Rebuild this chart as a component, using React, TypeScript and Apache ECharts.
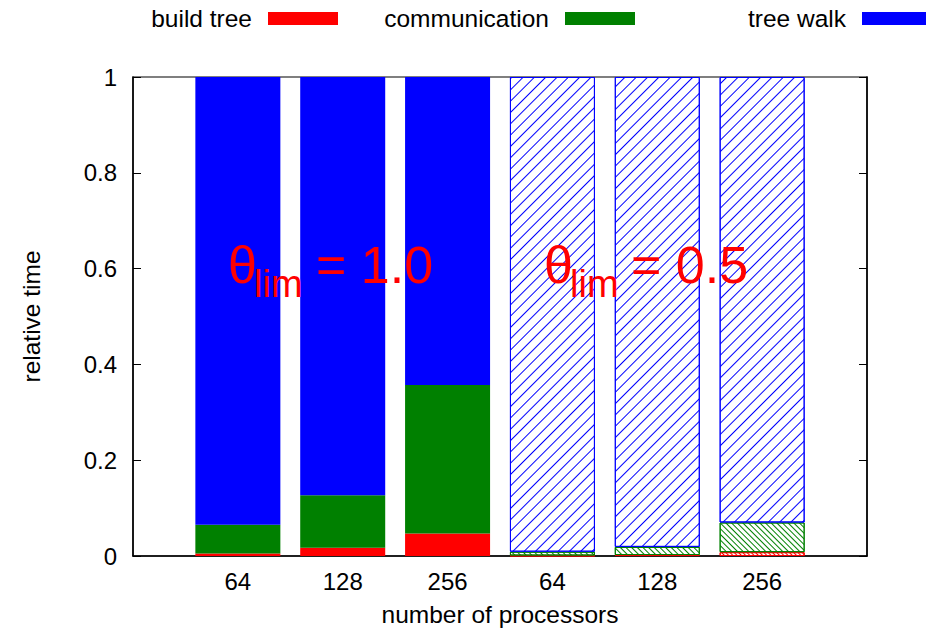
import React, { useEffect, useRef } from "react";
import * as echarts from "echarts";

const categories = ["", "64", "128", "256", "64", "128", "256", ""];
const seriesNames = ["build tree", "communication", "tree walk"];
// theta_lim = 1.0 (solid bars)
const buildSolid = [0.005, 0.017, 0.047];
const commSolid = [0.06, 0.11, 0.31];
const walkSolid = [0.935, 0.873, 0.643];
// theta_lim = 0.5 (hatched bars)
const buildHatched = [0.001, 0.002, 0.008];
const commHatched = [0.008, 0.017, 0.062];
const walkHatched = [0.991, 0.981, 0.93];
const yTicks = [0, 0.2, 0.4, 0.6, 0.8, 1];

const RED = "#ff0000";
const GREEN = "#008000";
const BLUE = "#0000ff";
const FONT = "'Liberation Sans', Arial, Helvetica, sans-serif";

const solidData = (v: number[]) => ["-", ...v, 0, 0, 0, "-"];
const hatchedData = (v: number[]) => ["-", "-", "-", "-", ...v, "-"];

const decal = (color: string, gap: number, rotation: number) => ({
  symbol: "rect",
  symbolSize: 1,
  color,
  backgroundColor: "#ffffff",
  dashArrayX: [1, 0],
  dashArrayY: [1, gap],
  rotation,
});

export default function App() {
  const ref = useRef<HTMLDivElement>(null);
  useEffect(() => {
    if (!ref.current) return;
    const chart = echarts.init(ref.current, undefined, { renderer: "svg" });
    const colors = [RED, GREEN, BLUE];
    const solidVals = [buildSolid, commSolid, walkSolid];
    const hatchVals = [buildHatched, commHatched, walkHatched];
    const decals = [
      decal(RED, 2, Math.PI / 4),
      decal(GREEN, 3, Math.PI / 4),
      decal(BLUE, 7, -Math.PI / 4),
    ];
    const series: any[] = [];
    seriesNames.forEach((name, i) => {
      series.push({
        name,
        type: "bar",
        stack: "all",
        barWidth: 85,
        data: solidData(solidVals[i]),
        itemStyle: { color: colors[i] },
      });
    });
    seriesNames.forEach((name, i) => {
      series.push({
        name,
        type: "bar",
        stack: "all",
        barWidth: 85,
        data: hatchedData(hatchVals[i]),
        itemStyle: {
          color: "#ffffff",
          borderColor: colors[i],
          borderWidth: 1,
          decal: decals[i],
        },
      });
    });
    const legendRights = [588, 291, -6];
    const legend = seriesNames.map((name, i) => ({
      data: [name],
      right: legendRights[i],
      top: 6,
      padding: 0,
      align: "right",
      itemWidth: 70,
      itemHeight: 13,
      icon: "rect",
      selectedMode: false,
      textStyle: {
        fontFamily: FONT,
        fontSize: 24.5,
        color: "#000",
        padding: [0, 11, 0, 0],
      },
    }));
    const thetaText = (x: number, y: number, text: string, size: number) => ({
      type: "text",
      x,
      y,
      z: 100,
      style: {
        text,
        fill: RED,
        font: `${size}px ${FONT}`,
        verticalAlign: "middle",
        align: "left",
      },
    });
    chart.setOption({
      animation: false,
      backgroundColor: "#ffffff",
      grid: {
        left: 133,
        right: 59,
        top: 77,
        bottom: 78,
        show: true,
        borderColor: "#000",
        borderWidth: 1.2,
        backgroundColor: "transparent",
      },
      legend,
      xAxis: {
        type: "category",
        data: categories,
        boundaryGap: false,
        axisLine: { lineStyle: { color: "#000", width: 1.5 } },
        axisTick: { show: false },
        axisLabel: {
          fontFamily: FONT,
          fontSize: 24,
          color: "#000",
          margin: 13,
          interval: 0,
        },
        name: "number of processors",
        nameLocation: "middle",
        nameGap: 46,
        nameTextStyle: { fontFamily: FONT, fontSize: 24.5, color: "#000" },
      },
      yAxis: [
        {
          type: "value",
          min: yTicks[0],
          max: yTicks[yTicks.length - 1],
          interval: 0.2,
          axisLine: { show: true, lineStyle: { color: "#000", width: 1.5 } },
          axisTick: { show: true, inside: true, length: 8, lineStyle: { color: "#000" } },
          splitLine: { show: false },
          axisLabel: {
            fontFamily: FONT,
            fontSize: 24,
            color: "#000",
            margin: 16,
          },
          name: "relative time",
          nameLocation: "middle",
          nameGap: 89,
          nameTextStyle: { fontFamily: FONT, fontSize: 24.5, color: "#000" },
        },
        {
          type: "value",
          position: "right",
          min: yTicks[0],
          max: yTicks[yTicks.length - 1],
          interval: 0.2,
          axisLine: { show: true, lineStyle: { color: "#000", width: 1.5 } },
          axisTick: { show: true, inside: true, length: 8, lineStyle: { color: "#000" } },
          splitLine: { show: false },
          axisLabel: { show: false },
        },
      ],
      series,
      graphic: [
        thetaText(228, 265, "θ", 52),
        thetaText(254, 284, "lim", 38),
        thetaText(316, 265, "= 1.0", 52),
        thetaText(544, 265, "θ", 52),
        thetaText(570, 284, "lim", 38),
        thetaText(631, 265, "= 0.5", 52),
      ],
    });
    return () => chart.dispose();
  }, []);
  return (
    <div
      ref={ref}
      style={{ position: "fixed", left: 0, top: 0, width: 926, height: 634 }}
    />
  );
}
